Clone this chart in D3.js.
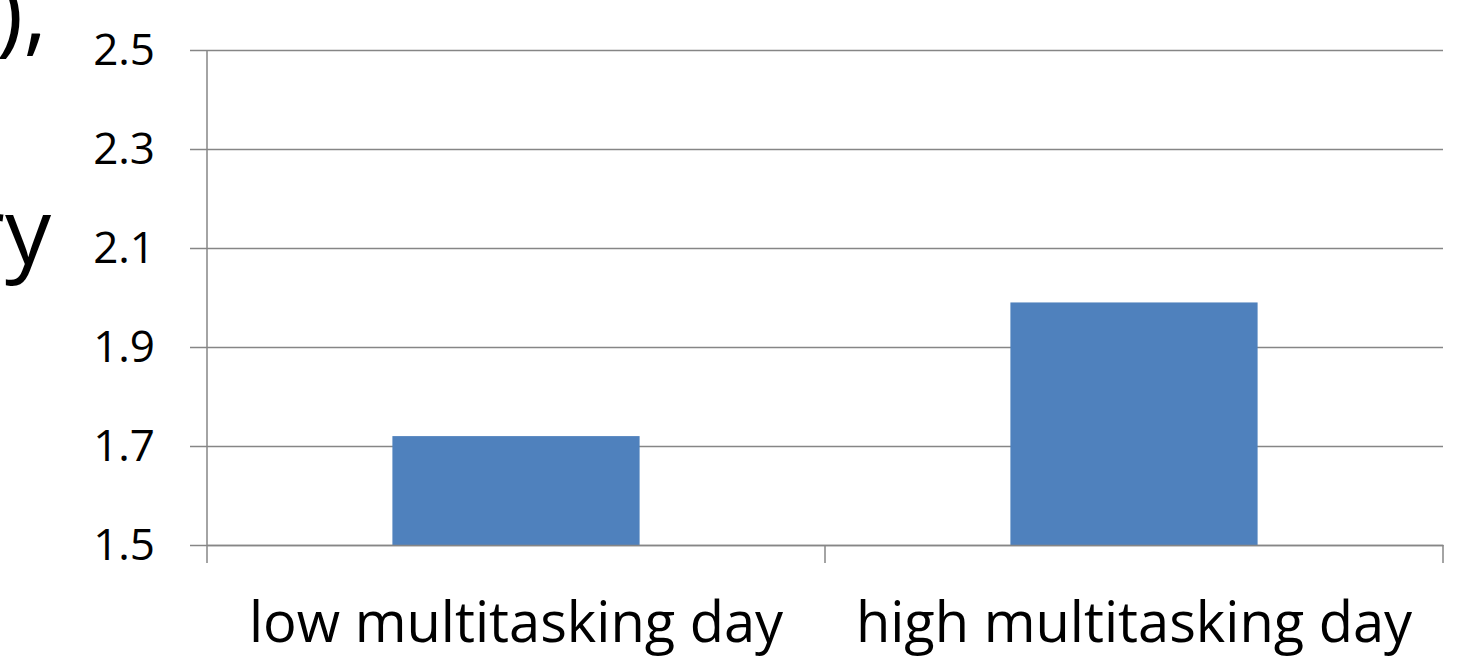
<!DOCTYPE html>
<html>
<head>
<meta charset="utf-8">
<script src="https://cdn.jsdelivr.net/npm/d3@7"></script>
<style>
  body { margin: 0; background: #fff; }
  svg { display: block; }
  text { font-family: "Open Sans", sans-serif; fill: #000; }
</style>
</head>
<body>
<div id="chart"></div>
<script>
// chart data
var categories = ["low multitasking day", "high multitasking day"];
var values = [1.72, 1.99];
var yTicks = [1.5, 1.7, 1.9, 2.1, 2.3, 2.5];

var width = 1464,
    height = 658,
    margin = {top: 50, right: 21, bottom: 113, left: 207},
    lineColor = "#868686",
    barColor = "#4F81BD";

var svg = d3.select("#chart")
            .append("svg")
            .attr("width", width)
            .attr("height", height);

// cropped slide text on the left edge
svg.append("text")
   .attr("x", 47)
   .attr("y", 44)
   .attr("text-anchor", "end")
   .style("font-size", "92px")
   .text("),");

svg.append("text")
   .attr("x", 51)
   .attr("y", 264)
   .attr("text-anchor", "end")
   .style("font-size", "92px")
   .text("ry");

var g = svg.append("g")
           .attr("transform", "translate(" + margin.left + "," + margin.top + ")");

var plotW = width - margin.left - margin.right,
    plotH = height - margin.top - margin.bottom;

// x scale
var xScale = d3.scaleBand()
               .domain(categories)
               .range([0, plotW]);

// y scale
var yScale = d3.scaleLinear()
               .domain([1.5, 2.5])
               .range([plotH, 0]);

// gridlines + y labels
var yAxis = g.append("g")
             .attr("class", "y-axis")
             .call(d3.axisLeft(yScale)
                     .tickValues(yTicks)
                     .tickFormat(d3.format(".1f"))
                     .tickSize(-plotW)
                     .tickPadding(52));

yAxis.select(".domain").remove();
yAxis.selectAll(".tick line")
     .attr("x1", -17)
     .attr("stroke", lineColor)
     .attr("stroke-width", 1.5);
yAxis.selectAll(".tick text")
     .attr("font-family", "Open Sans")
     .style("font-size", "44px")
     .attr("fill", "#000");

// bars
var barWidth = xScale.bandwidth() * 0.4;
g.selectAll(".bars")
 .data(values)
 .enter()
 .append("rect")
 .attr("class", "bars")
 .attr("x", function(d, i) {
   return xScale(categories[i]) + (xScale.bandwidth() - barWidth) / 2;
 })
 .attr("y", function(d) { return yScale(d); })
 .attr("width", barWidth)
 .attr("height", function(d) { return plotH - yScale(d); })
 .style("fill", barColor);

// left axis line
g.append("line")
 .attr("x1", 0).attr("x2", 0)
 .attr("y1", 0).attr("y2", plotH)
 .attr("stroke", lineColor)
 .attr("stroke-width", 1.5);

// x axis
var xAxis = g.append("g")
             .attr("class", "x-axis")
             .attr("transform", "translate(0," + plotH + ")")
             .call(d3.axisBottom(xScale).tickSize(0).tickPadding(57));

xAxis.select(".domain")
     .attr("stroke", lineColor)
     .attr("stroke-width", 1.5);
xAxis.selectAll(".tick text")
     .attr("font-family", "Open Sans")
     .style("font-size", "56px")
     .attr("fill", "#000");

// category boundary ticks
xAxis.selectAll(".sep")
     .data(d3.range(categories.length + 1))
     .enter()
     .append("line")
     .attr("class", "sep")
     .attr("x1", function(i) { return i * xScale.bandwidth(); })
     .attr("x2", function(i) { return i * xScale.bandwidth(); })
     .attr("y1", 0)
     .attr("y2", 18)
     .attr("stroke", lineColor)
     .attr("stroke-width", 1.5);
</script>
</body>
</html>
